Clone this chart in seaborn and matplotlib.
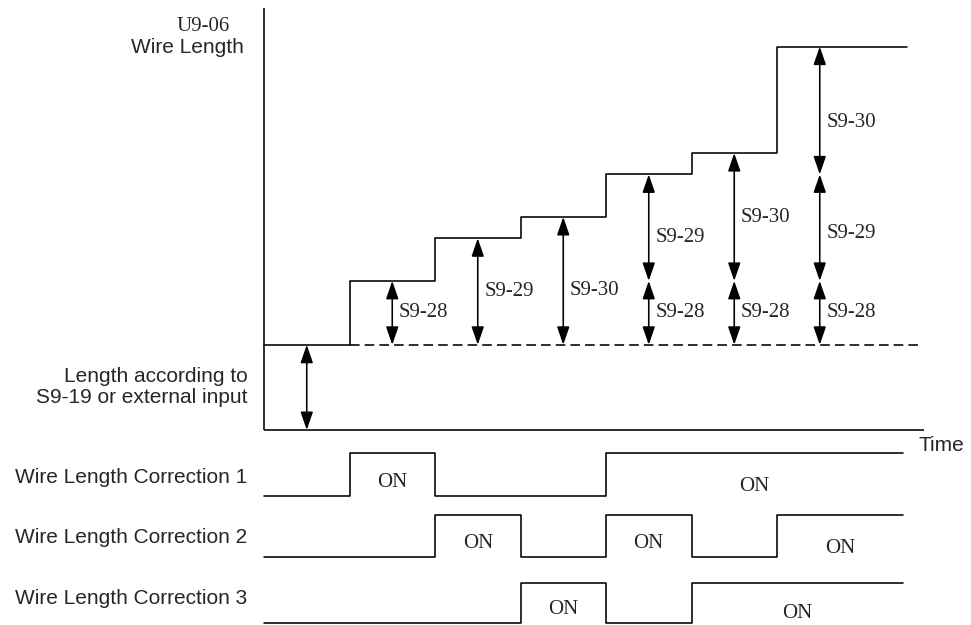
import matplotlib
matplotlib.use("Agg")
import matplotlib.pyplot as plt
import numpy as np
import pandas as pd
import seaborn as sns

# ---------------- data ----------------
base_length = 4.0                      # length from S9-19 or external input
setting_names = ["S9-28", "S9-29", "S9-30"]
setting_values = [3.0, 5.0, 6.0]       # length added by each correction
signal_names = ["Wire Length Correction 1",
                "Wire Length Correction 2",
                "Wire Length Correction 3"]
interval_starts = [0, 1, 2, 3, 4, 5, 6]
corr1_states = [0, 1, 0, 0, 1, 1, 1]
corr2_states = [0, 0, 1, 0, 1, 0, 1]
corr3_states = [0, 0, 0, 1, 0, 1, 1]
signal_states = [corr1_states, corr2_states, corr3_states]

# ---------------- layout ----------------
W, H = 971, 625
X0, PX_T = 264.0, 85.5     # pixel of t=0, pixels per time unit
Y0, PX_L = 430.0, 21.3     # pixel of length 0, pixels per length unit
# downward nudges (px) of some arrow labels, keyed by (interval, signal)
label_nudge_px = {(3, 2): 10, (4, 1): 10, (6, 2): 12, (6, 1): 6}


def tx(px):
    return (px - X0) / PX_T


def ly(py):
    return (Y0 - py) / PX_L


sns.set_theme(style="white")
plt.rcParams["font.family"] = ["Liberation Sans", "DejaVu Sans"]
SERIF = ["Liberation Serif", "DejaVu Serif"]
SANS = ["Liberation Sans", "DejaVu Sans"]
FS = 15
LW = 1.15

fig = plt.figure(figsize=(W / 100, H / 100), dpi=100)
ax = fig.add_axes([0, 0, 1, 1])
ax.set_xlim(tx(0), tx(W))
ax.set_ylim(ly(H), ly(0))
ax.axis("off")

# axes of the diagram
ax.plot([0, 0], [0, ly(8)], color="black", lw=LW, solid_capstyle="butt")
ax.plot([0, tx(924)], [0, 0], color="black", lw=LW, solid_capstyle="butt")

# wire length (U9-06) as a step line
lengths = [base_length + sum(s[i] * v for s, v in zip(signal_states, setting_values))
           for i in range(len(interval_starts))]
t_len_end = tx(906.7)
len_df = pd.DataFrame({"t": interval_starts + [t_len_end],
                       "length": lengths + [lengths[-1]]})
sns.lineplot(data=len_df, x="t", y="length", ax=ax, color="black", lw=LW,
             drawstyle="steps-post", estimator=None, sort=False)

# dashed base line
ax.plot([interval_starts[1], tx(920)], [base_length, base_length], color="black",
        lw=LW, linestyle=(0, (6, 3.2)))

ARROW = dict(arrowstyle="<|-|>,head_length=1.1,head_width=0.38", color="black",
             lw=LW, shrinkA=0, shrinkB=0, mutation_scale=10)


def varrow(t, y0, y1):
    ax.annotate("", xy=(t, y1), xytext=(t, y0), arrowprops=ARROW)


# base length arrow
varrow(interval_starts[0] + 0.5, 0, base_length)

# correction arrows, stacked
for i, t0 in enumerate(interval_starts):
    level = base_length
    for k, states in enumerate(signal_states):
        if states[i]:
            top = level + setting_values[k]
            tc = t0 + 0.5
            varrow(tc, level, top)
            nudge = label_nudge_px.get((i, k), 0) / PX_L
            ax.text(tc + 6.5 / PX_T, (level + top) / 2 - nudge, setting_names[k],
                    family=SERIF, fontsize=FS, ha="left", va="center")
            level = top

# correction signals
rows_low_px = [495.7, 557.3, 623.0]
rows_h_px = [42.5, 42.3, 40.0]
t_sig_end = tx(903)
label_base_px = [483.3, 542.7, 604.0]
for k, states in enumerate(signal_states):
    low = ly(rows_low_px[k])
    high = ly(rows_low_px[k] - rows_h_px[k])
    ys = [high if s else low for s in states]
    df = pd.DataFrame({"t": interval_starts + [t_sig_end], "v": ys + [ys[-1]]})
    sns.lineplot(data=df, x="t", y="v", ax=ax, color="black", lw=LW,
                 drawstyle="steps-post", estimator=None, sort=False)
    ax.text(tx(247), ly(label_base_px[k]), signal_names[k], family=SANS,
            fontsize=FS, ha="right", va="baseline")
    # ON labels for each pulse
    i = 0
    n = len(states)
    while i < n:
        if states[i]:
            j = i
            while j < n and states[j]:
                j += 1
            t_a = interval_starts[i]
            t_b = interval_starts[j] if j < n else t_sig_end
            off = 9.0 if (t_b - t_a) <= 1.01 else 4.5
            ax.text((t_a + t_b) / 2, ly(rows_low_px[k] - off), "ON", family=SERIF,
                    fontsize=FS, ha="center", va="baseline")
            i = j
        else:
            i += 1

# text labels
ax.text(tx(203), ly(30.7), "U9-06", family=SERIF, fontsize=FS, ha="center", va="baseline")
ax.text(tx(244), ly(53.3), "Wire Length", family=SANS, fontsize=FS, ha="right", va="baseline")
ax.text(tx(248), ly(381.7), "Length according to", family=SANS, fontsize=FS,
        ha="right", va="baseline")
ax.text(tx(248), ly(403.3), "S9-19 or external input", family=SANS, fontsize=FS,
        ha="right", va="baseline")
ax.text(tx(918), ly(450.7), "Time", family=SANS, fontsize=FS, ha="left", va="baseline")

fig.savefig("out.png", dpi=100)
